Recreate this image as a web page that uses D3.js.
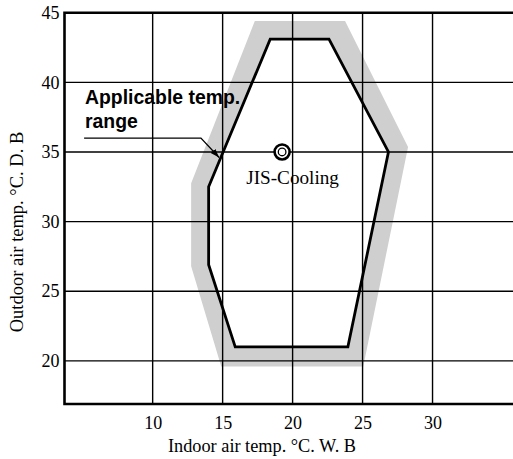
<!DOCTYPE html>
<html>
<head>
<meta charset="utf-8">
<script src="https://cdn.jsdelivr.net/npm/d3@7"></script>
<style>
  html, body { margin: 0; padding: 0; background: #fff; }
  svg { display: block; }
</style>
</head>
<body>
<svg id="chart" width="513" height="459"></svg>
<script>
// ---- data ----
const xTicks = [10, 15, 20, 25, 30];
const yTicks = [20, 25, 30, 35, 40, 45];
const xGrid = [10, 15, 20, 25, 30];
const yGrid = [20, 25, 30, 35, 40];
// inner applicable range (indoor WB, outdoor DB)
const rangeX = [18.4, 22.6, 26.85, 23.95, 15.9, 14.0, 14.0];
const rangeY = [43.1, 43.1, 35.0, 21.0, 21.0, 26.9, 32.5];
// outer tolerance band
const bandX = [17.3, 23.75, 28.25, 25.05, 14.9, 12.75, 12.75];
const bandY = [44.4, 44.4, 35.35, 19.6, 19.6, 26.8, 32.75];
// JIS rating point
const jisPoint = { x: 19.25, y: 35, label: "JIS-Cooling" };
const xLabel = "Indoor air temp. °C. W. B";
const yLabel = "Outdoor air temp. °C. D. B";
const noteLines = ["Applicable temp.", "range"];

(function () {
// ---- layout ----
const svg = d3.select("#chart");
const pL = 64.5, pR = 513, pT = 12.7, pB = 404;
const x = d3.scaleLinear().domain([3.7, 35.75]).range([pL, pR]);
const y = d3.scaleLinear().domain([16.9, 45]).range([pB, pT]);
const serif = "'Liberation Serif', 'Times New Roman', serif";
const sans = "'Liberation Sans', Arial, sans-serif";

// gray band (outer minus inner)
const toPts = (xs, ys) => xs.map((v, i) => [x(v), y(ys[i])]);
const ring = pts => "M" + pts.map(p => p.join(",")).join("L") + "Z";
svg.append("path")
  .attr("d", ring(toPts(bandX, bandY)) + ring(toPts(rangeX, rangeY)))
  .attr("fill", "#cfcfcf")
  .attr("fill-rule", "evenodd");

// grid
svg.append("g").selectAll("line").data(xGrid).join("line")
  .attr("x1", d => x(d)).attr("x2", d => x(d))
  .attr("y1", pT).attr("y2", pB)
  .attr("stroke", "#000").attr("stroke-width", 1.4);
svg.append("g").selectAll("line").data(yGrid).join("line")
  .attr("x1", pL).attr("x2", pR)
  .attr("y1", d => y(d)).attr("y2", d => y(d))
  .attr("stroke", "#000").attr("stroke-width", 1.4);

// frame: top, left, bottom
svg.append("path")
  .attr("d", `M${pR},${pT}L${pL},${pT}L${pL},${pB}L${pR},${pB}`)
  .attr("fill", "none").attr("stroke", "#000").attr("stroke-width", 2.6);

// axes tick labels via d3 axes
const xAxis = d3.axisBottom(x).tickValues(xTicks).tickSize(0).tickPadding(12);
const gx = svg.append("g").attr("transform", `translate(0,${pB})`).call(xAxis);
const yAxis = d3.axisLeft(y).tickValues(yTicks).tickSize(0).tickPadding(5);
const gy = svg.append("g").attr("transform", `translate(${pL},0)`).call(yAxis);
[gx, gy].forEach(g => {
  g.select(".domain").remove();
  g.selectAll("text").attr("font-family", serif).attr("font-size", 18).attr("fill", "#000");
});

// applicable range polygon
svg.append("path")
  .attr("d", ring(toPts(rangeX, rangeY)))
  .attr("fill", "none").attr("stroke", "#000")
  .attr("stroke-width", 2.8).attr("stroke-linejoin", "miter");

// JIS point
svg.append("circle").attr("cx", x(jisPoint.x)).attr("cy", y(jisPoint.y)).attr("r", 7.5)
  .attr("fill", "#fff").attr("stroke", "#000").attr("stroke-width", 2.6);
svg.append("circle").attr("cx", x(jisPoint.x)).attr("cy", y(jisPoint.y)).attr("r", 3.8)
  .attr("fill", "none").attr("stroke", "#000").attr("stroke-width", 1.3);
svg.append("text").attr("x", x(20)).attr("y", y(jisPoint.y) + 32)
  .attr("text-anchor", "middle").attr("font-family", serif).attr("font-size", 19.2)
  .text(jisPoint.label);

// annotation
svg.append("text").attr("x", 85).attr("y", 104)
  .attr("font-family", sans).attr("font-weight", "bold").attr("font-size", 19.4)
  .text(noteLines[0]);
svg.append("text").attr("x", 85).attr("y", 128)
  .attr("font-family", sans).attr("font-weight", "bold").attr("font-size", 19.4)
  .text(noteLines[1]);
const defs = svg.append("defs");
defs.append("marker").attr("id", "arr").attr("viewBox", "0 0 10 10")
  .attr("refX", 10).attr("refY", 5).attr("markerWidth", 9).attr("markerHeight", 9)
  .attr("markerUnits", "userSpaceOnUse").attr("orient", "auto")
  .append("path").attr("d", "M0,1.5L10,5L0,8.5Z").attr("fill", "#000");
svg.append("path")
  .attr("d", `M${x(5.1)},${y(36)}L${x(13.45)},${y(36)}L${x(14.75)},${y(34.6)}`)
  .attr("fill", "none").attr("stroke", "#000").attr("stroke-width", 1.3)
  .attr("marker-end", "url(#arr)");

// axis titles
svg.append("text").attr("x", 262).attr("y", 452)
  .attr("text-anchor", "middle").attr("font-family", serif).attr("font-size", 18.3)
  .text(xLabel);
svg.append("text").attr("transform", "translate(23,232) rotate(-90)")
  .attr("text-anchor", "middle").attr("font-family", serif).attr("font-size", 18.5)
  .text(yLabel);
})();
</script>
</body>
</html>
